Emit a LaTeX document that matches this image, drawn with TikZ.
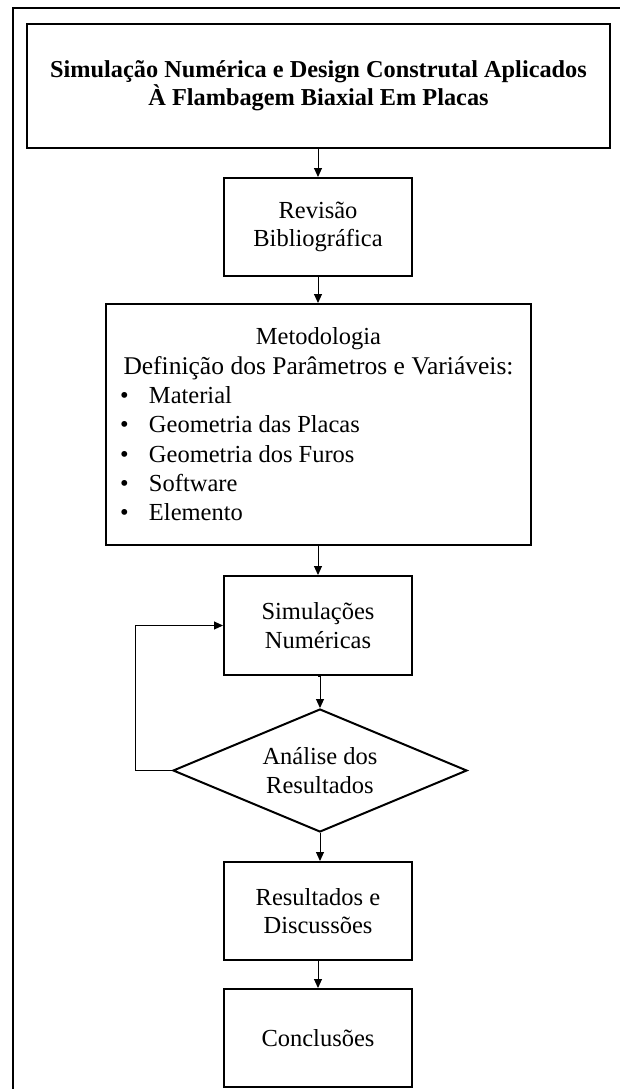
\documentclass[tikz,border=0pt]{standalone}
\usepackage{fontspec}
\setmainfont{Liberation Serif}
\usetikzlibrary{shapes.geometric,arrows.meta}
\newcommand{\mitem}{\makebox[43pt][l]{\hspace{14pt}•}}
\begin{document}
\begin{tikzpicture}[x=1pt,y=-1pt,
  every node/.style={font=\fontsize{24.5}{28.5}\selectfont},
  stepbox/.style={draw,line width=2pt,align=center,inner sep=0pt},
  decision/.style={draw,diamond,shape aspect=2.37,line width=2pt,align=center,inner sep=0pt,
    minimum width=294pt,minimum height=123pt},
  conn/.style={line width=1pt,-{Triangle[length=9pt,width=8pt]}},
  loopline/.style={line width=1pt},
  frameline/.style={line width=1.5pt}]
\useasboundingbox (0,0) rectangle (620,1089);
\fill[white] (0,0) rectangle (620,1089);
\draw[frameline] (13,8) rectangle (640,1110);

\node[stepbox, minimum width=583pt, minimum height=124pt,
  font=\fontsize{24.3}{28}\selectfont\bfseries] (title) at (318.5,86)
  {Simulação Numérica e Design Construtal Aplicados\\À Flambagem Biaxial Em Placas};

\node[stepbox, minimum width=188pt, minimum height=98pt] (rev) at (318,227)
  {Revisão\\Bibliográfica};

\node[stepbox, minimum width=425pt, minimum height=241pt] (meto) at (318.5,424.5)
  {\begin{minipage}{425pt}\fontsize{24.5}{29.3}\selectfont
   \centering Metodologia\\{\fontsize{25.5}{29.3}\selectfont\makebox[390pt][s]{Definição dos Parâmetros e Variáveis:}}\par
   \raggedright
   \mitem Material\\
   \mitem Geometria das Placas\\
   \mitem Geometria dos Furos\\
   \mitem Software\\
   \mitem Elemento
   \end{minipage}};

\node[stepbox, minimum width=188pt, minimum height=99pt] (sim) at (318,625.5)
  {Simulações\\Numéricas};

\node[decision] (dec) at (320,770.5) {Análise dos\\Resultados};

\node[stepbox, minimum width=188pt, minimum height=98pt] (res) at (318,911)
  {Resultados e\\Discussões};

\node[stepbox, minimum width=188pt, minimum height=98pt] (conc) at (318,1038)
  {Conclusões};

\coordinate (loopc) at (135,770.5);

\draw[conn] (title.south -| rev.north) -- (rev.north);
\draw[conn] (rev.south) -- (rev.south |- meto.north);
\draw[conn] (sim.north |- meto.south) -- (sim.north);
\draw[conn] (sim.south) -- (sim.south -| dec.north) -- (dec.north);
\draw[conn] (dec.south) -- (dec.south |- res.north);
\draw[conn] (res.south) -- (conc.north);
\draw[loopline] (dec.west) -- (loopc);
\draw[conn] (loopc) |- (sim.west);
\end{tikzpicture}
\end{document}
